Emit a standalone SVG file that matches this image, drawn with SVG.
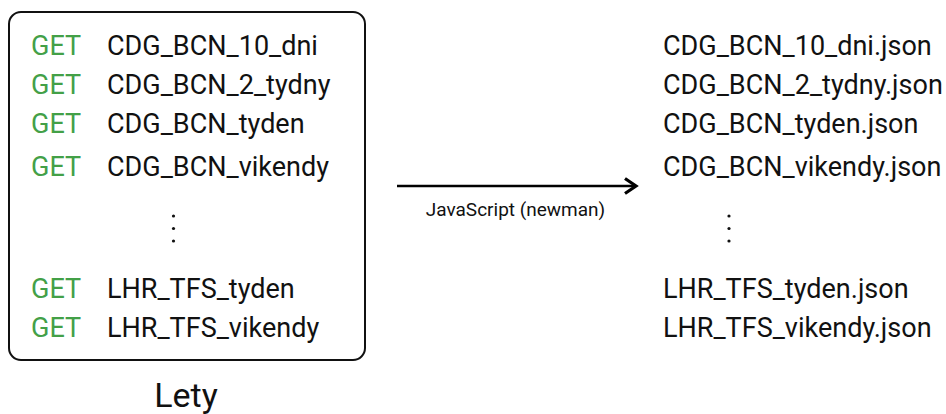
<svg xmlns="http://www.w3.org/2000/svg" width="946" height="414" viewBox="0 0 946 414">
<style>
text{font-family:Roboto,"Open Sans",sans-serif;fill:#111;font-size:27px}
.get{fill:#43a047}
.lbl{font-size:19px}
.title{font-size:34px}
</style>
<defs>
<marker id="arr" viewBox="0 0 18 18" refX="15" refY="9" markerWidth="18" markerHeight="18" markerUnits="userSpaceOnUse" orient="auto">
<path d="M4,1.5 L15,9 L4,16.5" fill="none" stroke="#000" stroke-width="3.2"/>
</marker>
</defs>
<g id="lety">
<rect x="9" y="12" width="356" height="348" rx="12" fill="none" stroke="#111" stroke-width="2"/>
<text class="get" x="31" y="55">GET</text><text x="107" y="55">CDG_BCN_10_dni</text>
<text class="get" x="31" y="94">GET</text><text x="107" y="94">CDG_BCN_2_tydny</text>
<text class="get" x="31" y="133">GET</text><text x="107" y="133">CDG_BCN_tyden</text>
<text class="get" x="31" y="176">GET</text><text x="107" y="176">CDG_BCN_vikendy</text>
<circle cx="173.5" cy="216" r="1.6" fill="#111"/><circle cx="173.5" cy="228.5" r="1.6" fill="#111"/><circle cx="173.5" cy="241" r="1.6" fill="#111"/>
<text class="get" x="31" y="298">GET</text><text x="107" y="298">LHR_TFS_tyden</text>
<text class="get" x="31" y="337">GET</text><text x="107" y="337">LHR_TFS_vikendy</text>
<text class="title" x="186" y="407" text-anchor="middle">Lety</text>
</g>
<g id="files">
<text x="663" y="55">CDG_BCN_10_dni.json</text>
<text x="663" y="94">CDG_BCN_2_tydny.json</text>
<text x="663" y="133">CDG_BCN_tyden.json</text>
<text x="663" y="176">CDG_BCN_vikendy.json</text>
<circle cx="729" cy="216" r="1.6" fill="#111"/><circle cx="729" cy="228.5" r="1.6" fill="#111"/><circle cx="729" cy="241" r="1.6" fill="#111"/>
<text x="663" y="298">LHR_TFS_tyden.json</text>
<text x="663" y="337">LHR_TFS_vikendy.json</text>
</g>
<g id="connectors">
<line x1="397" y1="186" x2="636" y2="186" stroke="#000" stroke-width="2.5" marker-end="url(#arr)"/>
<text class="lbl" x="515.5" y="216" text-anchor="middle">JavaScript (newman)</text>
</g>
</svg>
